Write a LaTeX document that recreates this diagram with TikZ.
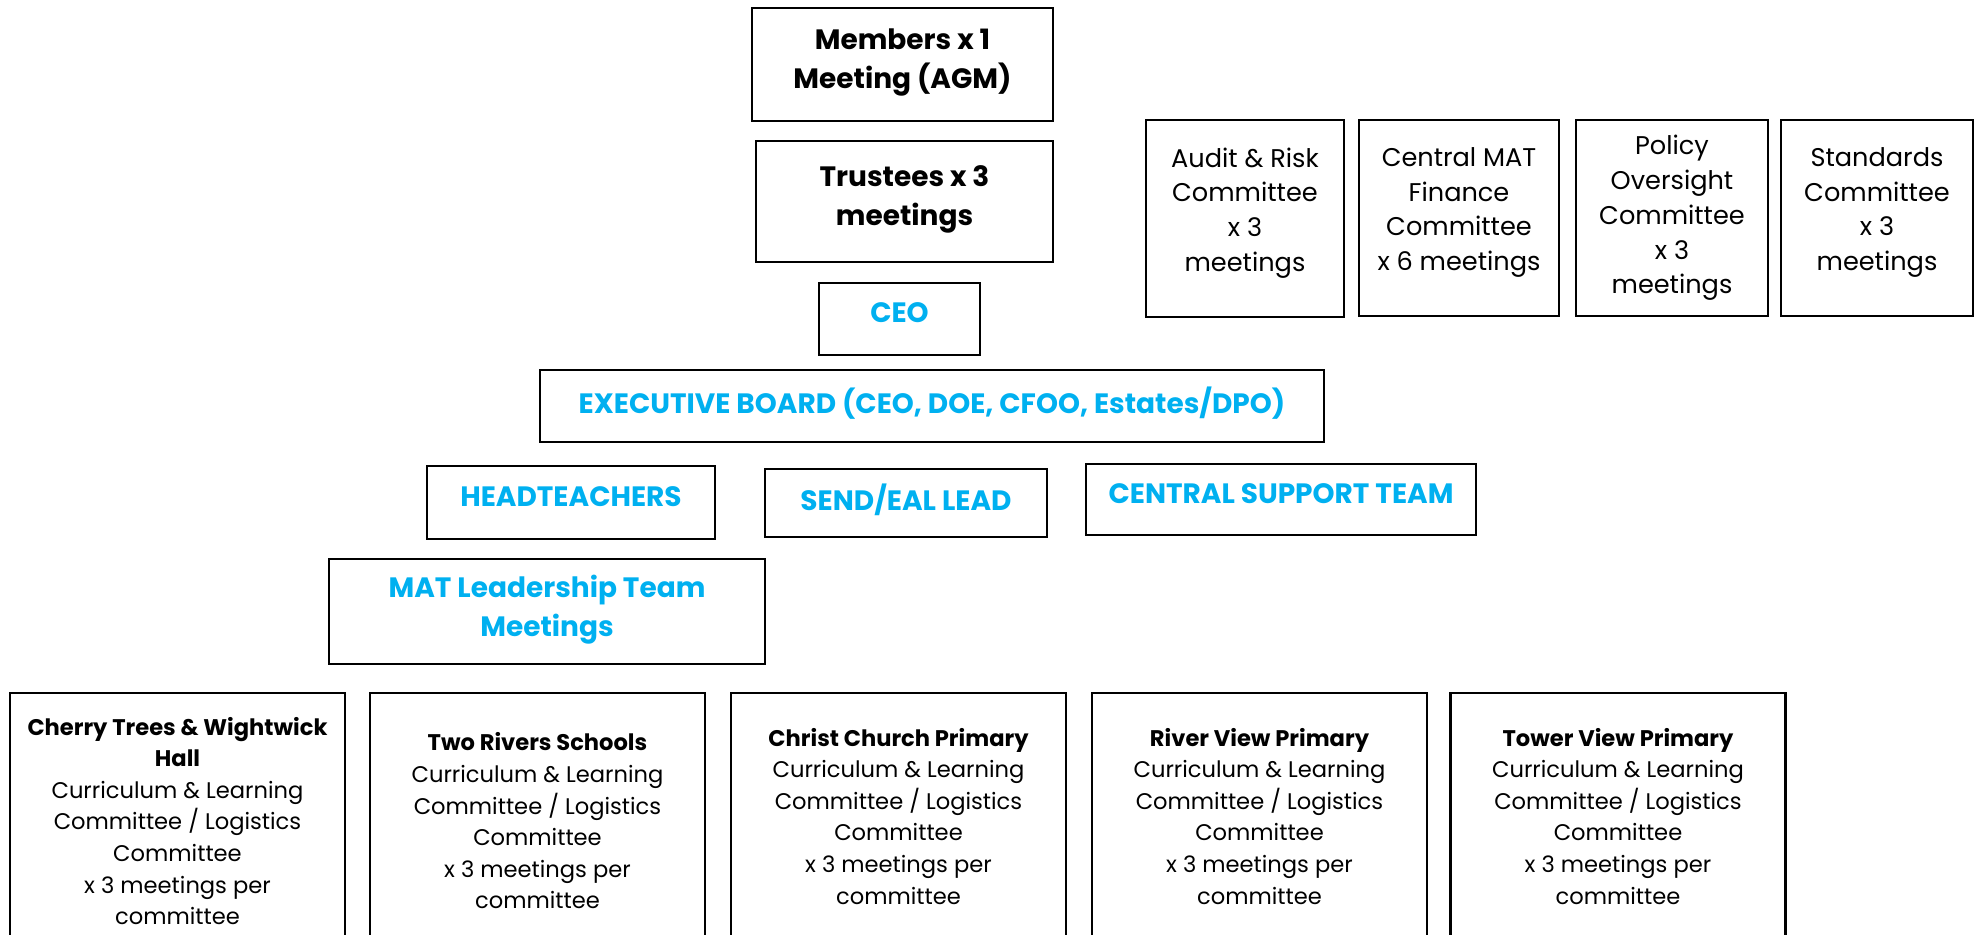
\documentclass[tikz,border=0pt]{standalone}
\usepackage{fontspec}
\setmainfont{Poppins}
\definecolor{govblue}{RGB}{0,176,240}
\tikzset{
  box/.style={draw, line width=1.2pt, align=center, inner sep=2pt},
  wh/.style 2 args={minimum width=#1*0.5pt, minimum height=#2*0.5pt},
  board/.style={box, font=\fontsize{14}{19.5}\selectfont\bfseries, text depth=6pt},
  lead/.style={board, text=govblue},
  cttee/.style={box, font=\fontsize{12.8}{17.4}\selectfont},
  raised/.style={text depth=9pt},
  school/.style={box, wh={335}{256}, font=\fontsize{11.3}{15.8}\selectfont},
}
\begin{document}
\begin{tikzpicture}[x=0.5pt, y=-0.5pt]
    \useasboundingbox (0,0) rectangle (1975,934);
    \clip (0,0) rectangle (1975,934);

    % Governance
    \node[board, wh={301}{113}] (members) at (902.5,64.5) {Members x 1\\Meeting (AGM)};
    \node[board, wh={297}{121}] (trustees) at (904.5,201.5) {Trustees x 3\\meetings};

    % Executive
    \node[lead, wh={161}{72}] (ceo) at (899.5,319) {CEO};
    \node[lead, wh={784}{72}] (exec) at (932,406) {EXECUTIVE BOARD (CEO, DOE, CFOO, Estates/DPO)};
    \node[lead, wh={288}{73}] (heads) at (571,502.5) {HEADTEACHERS};
    \node[lead, wh={282}{68}] (send) at (906,503) {SEND/EAL LEAD};
    \node[lead, wh={390}{71}] (support) at (1281,499.5) {CENTRAL SUPPORT TEAM};
    \node[lead, wh={436}{105}] (matlt) at (547,611.5) {MAT Leadership Team\\Meetings};

    % Trust committees
    \node[cttee, raised, wh={198}{197}] (audit) at (1245,218.5) {Audit \& Risk\\Committee\\x 3\\meetings};
    \node[cttee, raised, wh={200}{196}] (finance) at (1459,218) {Central MAT\\Finance\\Committee\\x 6 meetings};
    \node[cttee, wh={192}{196}] (policy) at (1672,218) {Policy\\Oversight\\Committee\\x 3\\meetings};
    \node[cttee, raised, wh={192}{196}] (standards) at (1877,218) {Standards\\Committee\\x 3\\meetings};

    % Local committees
    \node[school] (cherry) at (177.5,821) {\textbf{Cherry Trees \& Wightwick}\\\textbf{Hall}\\Curriculum \& Learning\\Committee / Logistics\\Committee\\x 3 meetings per\\committee};
    \node[school] (tworivers) at (537.5,821) {\textbf{Two Rivers Schools}\\Curriculum \& Learning\\Committee / Logistics\\Committee\\x 3 meetings per\\committee};
    \node[school, text depth=5pt] (christ) at (898.5,821) {\textbf{Christ Church Primary}\\Curriculum \& Learning\\Committee / Logistics\\Committee\\x 3 meetings per\\committee};
    \node[school, text depth=5pt] (riverview) at (1259.5,821) {\textbf{River View Primary}\\Curriculum \& Learning\\Committee / Logistics\\Committee\\x 3 meetings per\\committee};
    \node[school, text depth=5pt] (towerview) at (1618,821) {\textbf{Tower View Primary}\\Curriculum \& Learning\\Committee / Logistics\\Committee\\x 3 meetings per\\committee};
\end{tikzpicture}
\end{document}
